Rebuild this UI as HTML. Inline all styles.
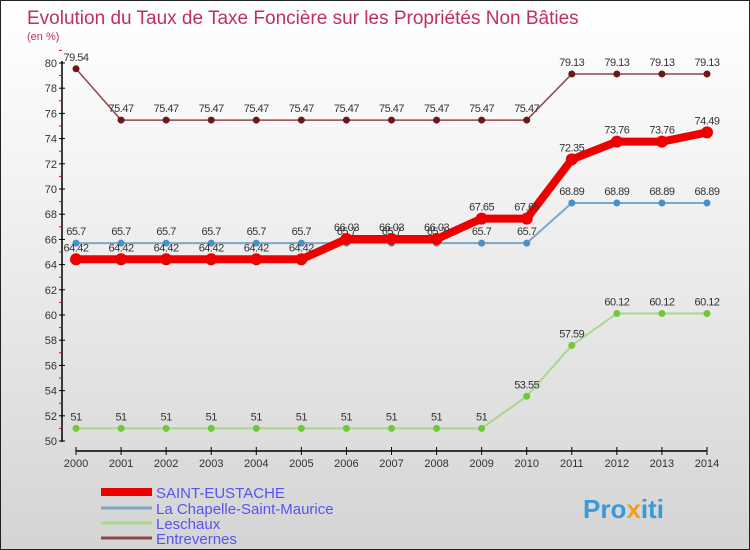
<!DOCTYPE html>
<html><head><meta charset="utf-8"><style>
body{margin:0;}
#c{width:748px;height:548px;border:1px solid #222;background:linear-gradient(#ffffff,#f4f4f4 30%,#d4d4d4);position:relative;overflow:hidden;font-family:"Liberation Sans",sans-serif;}
svg{position:absolute;left:0;top:0}
</style></head><body>
<div id="c">
<svg id="s" width="748" height="548">
<text x="26" y="23" font-size="19" fill="#c0305a">Evolution du Taux de Taxe Foncière sur les Propriétés Non Bâties</text>
<text x="26" y="39" font-size="11" fill="#c0305a">(en %)</text>
<text x="582" y="517" font-size="26" font-weight="bold" fill="#3a9ad8">Pro<tspan fill="#f0a020">x</tspan>iti</text>
</svg>
</div>
<script>
const years=[2000,2001,2002,2003,2004,2005,2006,2007,2008,2009,2010,2011,2012,2013,2014];
const saint=[64.42,64.42,64.42,64.42,64.42,64.42,66.03,66.03,66.03,67.65,67.65,72.35,73.76,73.76,74.49];
const chapelle=[65.7,65.7,65.7,65.7,65.7,65.7,65.7,65.7,65.7,65.7,65.7,68.89,68.89,68.89,68.89];
const leschaux=[51,51,51,51,51,51,51,51,51,51,53.55,57.59,60.12,60.12,60.12];
const entrevernes=[79.54,75.47,75.47,75.47,75.47,75.47,75.47,75.47,75.47,75.47,75.47,79.13,79.13,79.13,79.13];
const yTicks=[50,52,54,56,58,60,62,64,66,68,70,72,74,76,78,80];
const names=["SAINT-EUSTACHE","La Chapelle-Saint-Maurice","Leschaux","Entrevernes"];
const NS="http://www.w3.org/2000/svg";const s=document.getElementById('s');
const X=i=>75+i*(706-75)/(years.length-1);
const Y=v=>440-(v-50)*(440-62)/30;
function el(t,a,p){const e=document.createElementNS(NS,t);for(const k in a)e.setAttribute(k,a[k]);(p||s).appendChild(e);return e;}
let ax=el('line',{x1:61,y1:60,x2:61,y2:441,stroke:'#000','stroke-width':1.5});


let xa=el('line',{x1:75,y1:450,x2:706,y2:450,stroke:'#000','stroke-width':1.5});


yTicks.forEach(v=>{
 el('line',{x1:58,x2:64,y1:Y(v),y2:Y(v),stroke:'#000'});
 el('line',{x1:58,x2:61,y1:Y(v+1),y2:Y(v+1),stroke:'#e00'});
 const t=el('text',{x:56,y:Y(v)+4,'font-size':11,fill:'#333','text-anchor':'end'});t.textContent=v;
 
 
});
years.forEach((y,i)=>{
 el('line',{x1:X(i),x2:X(i),y1:446,y2:454,stroke:'#000'});
 const t=el('text',{x:X(i),y:466,'font-size':11,fill:'#333','text-anchor':'middle'});t.textContent=y;
 
 
});
function series(d,col,w,r,dot,name){
 const g=el('g',{});
 
 
 el('polyline',{points:d.map((v,i)=>X(i)+','+Y(v)).join(' '),fill:'none',stroke:col,'stroke-width':w},g);
 d.forEach((v,i)=>{
  const c=el('circle',{cx:X(i),cy:Y(v),r:r,fill:dot},g);
  
  
  const t=el('text',{x:X(i),y:Y(v)-8,'font-size':11,fill:'#333','text-anchor':'middle','letter-spacing':'-0.5'},g);t.textContent=v;
 });
}
series(leschaux,'#a8d888',2,3.5,'#70c838','leschaux-series');
series(chapelle,'#7aa8c8',2,3.5,'#4a90c8','chapelle-series');
series(entrevernes,'#8a4848',1.5,3.5,'#6a1818','entrevernes-series');
series(saint,'#ee0000',8,6,'#ee0000','saint-eustache-series');
const lc=['#ee0000','#7aa8c8','#a8d888','#8a4848'],lw=[8,3,3,3],ly=[492,508,523,538];
names.forEach((n,i)=>{
 const g=el('g',{});
 
 
 el('line',{x1:100,x2:151,y1:ly[i]-1,y2:ly[i]-1,stroke:lc[i],'stroke-width':lw[i]},g);
 const t=el('text',{x:155,y:ly[i]+5,'font-size':15,fill:'#5555ee'},g);t.textContent=n;
});
</script>
</body></html>
